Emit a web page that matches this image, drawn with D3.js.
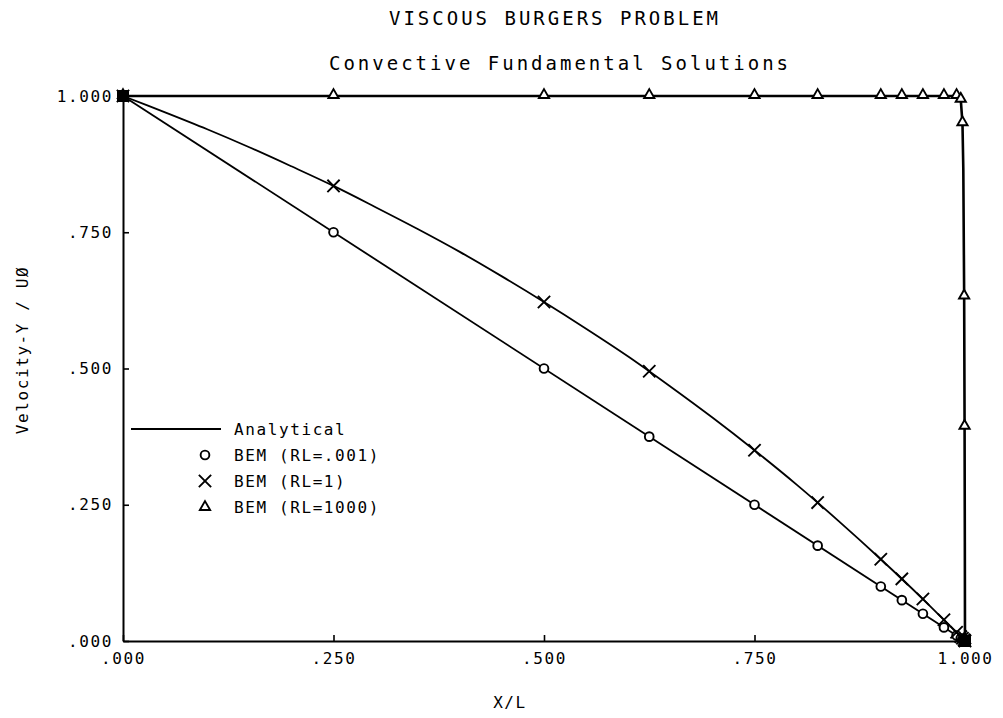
<!DOCTYPE html>
<html><head><meta charset="utf-8">
<script src="https://cdn.jsdelivr.net/npm/d3@7"></script>
<style>
body{margin:0;background:#fff;}
text{font-family:"DejaVu Sans Mono",monospace;font-size:16px;letter-spacing:1.6px;fill:#000;}
.ttl{font-size:19px;letter-spacing:3px;}
</style></head><body>
<svg id="c" width="1003" height="718"></svg>
<script>
// ---- data ----
const titleText = "VISCOUS BURGERS PROBLEM";
const subtitleText = "Convective Fundamental Solutions";
const xLabel = "X/L";
const yLabel = "Velocity-Y / UØ";
const xTicks = [0, 0.25, 0.5, 0.75, 1.0];
const xTickLabels = [".000", ".250", ".500", ".750", "1.000"];
const yTicks = [0, 0.25, 0.5, 0.75, 1.0];
const yTickLabels = [".000", ".250", ".500", ".750", "1.000"];

// BEM nodes
const nodeX = [0, 0.25, 0.5, 0.625, 0.75, 0.825, 0.9, 0.925, 0.95, 0.975, 0.99, 0.995, 0.997, 0.999, 0.9995, 1.0];
const bemRL001 = [1, 0.75, 0.5, 0.375, 0.25, 0.175, 0.1, 0.075, 0.05, 0.025, 0.01, 0.005, 0.003, 0.001, 0.0005, 0];
const bemRL1 = [1, 0.835, 0.622, 0.495, 0.350, 0.254, 0.150, 0.114, 0.077, 0.039, 0.016, 0.008, 0.005, 0.002, 0.001, 0];
const bemRL1000 = [1, 1, 1, 1, 1, 1, 1, 1, 1, 1, 1, 0.993, 0.950, 0.632, 0.393, 0];

// analytical curves
const anaX1 = [0, 0.05, 0.1, 0.15, 0.2, 0.25, 0.3, 0.35, 0.4, 0.45, 0.5, 0.55, 0.6, 0.65, 0.7, 0.75, 0.8, 0.85, 0.9, 0.95, 1.0];
const anaRL1 = [1, 0.970, 0.939, 0.906, 0.871, 0.835, 0.796, 0.756, 0.714, 0.669, 0.622, 0.573, 0.522, 0.467, 0.410, 0.350, 0.287, 0.220, 0.150, 0.077, 0];
const anaX001 = [0, 1.0];
const anaRL001 = [1, 0];
const anaX1000 = [0, 0.99, 0.995, 0.997, 0.998, 0.999, 0.9995, 0.9998, 1.0];
const anaRL1000 = [1, 1, 0.993, 0.950, 0.865, 0.632, 0.393, 0.181, 0];

// boundary condition points (drawn as filled squares)
const bcX = [0, 1];
const bcY = [1, 0];

const legendLabels = ["Analytical", "BEM (RL=.001)", "BEM (RL=1)", "BEM (RL=1000)"];
const legendSymbols = ["line", "circle", "cross", "triangle"];

// ---- drawing ----
const svg = d3.select("#c");
const L = 123, R = 965, T = 96, B = 641;
const x = d3.scaleLinear().domain([0, 1]).range([L, R]);
const y = d3.scaleLinear().domain([0, 1]).range([B, T]);

svg.append("text").attr("class", "ttl").attr("x", 555).attr("y", 25).attr("text-anchor", "middle").text(titleText);
svg.append("text").attr("class", "ttl").attr("x", 560).attr("y", 70).attr("text-anchor", "middle").text(subtitleText);

// axes
const xAxis = d3.axisBottom(x).tickValues(xTicks).tickFormat((d, i) => xTickLabels[i]).tickSizeInner(-6).tickSizeOuter(0).tickPadding(9);
const gx = svg.append("g").attr("transform", `translate(0,${B})`).call(xAxis);
const yAxis = d3.axisLeft(y).tickValues(yTicks).tickFormat((d, i) => yTickLabels[i]).tickSizeInner(-6).tickSizeOuter(0).tickPadding(10);
const gy = svg.append("g").attr("transform", `translate(${L},0)`).call(yAxis);
[gx, gy].forEach(g => {
  g.select(".domain").attr("stroke", "#000").attr("stroke-width", 2);
  g.selectAll(".tick line").attr("stroke", "#000").attr("stroke-width", 1.6);
  g.selectAll("text").style("font-family", '"DejaVu Sans Mono",monospace').style("font-size", "16px").style("letter-spacing", "1.6px").attr("fill", "#000");
});
gx.selectAll(".tick text").attr("dy", "0.9em");

svg.append("text").attr("x", 510).attr("y", 708).attr("text-anchor", "middle").text(xLabel);
svg.append("text").attr("transform", `translate(28,350) rotate(-90)`).attr("text-anchor", "middle").text(yLabel);

// analytical lines
const line = d3.line().x(d => x(d[0])).y(d => y(d[1]));
const smooth = d3.line().x(d => x(d[0])).y(d => y(d[1])).curve(d3.curveCatmullRom);
svg.append("path").attr("d", line(d3.zip(anaX001, anaRL001))).attr("fill", "none").attr("stroke", "#000").attr("stroke-width", 1.8);
svg.append("path").attr("d", smooth(d3.zip(anaX1, anaRL1))).attr("fill", "none").attr("stroke", "#000").attr("stroke-width", 1.8);
svg.append("path").attr("d", line(d3.zip(anaX1000, anaRL1000))).attr("fill", "none").attr("stroke", "#000").attr("stroke-width", 2.6);

// markers
const sym = {
  circle: d3.symbol().type(d3.symbolCircle).size(60),
  cross: d3.symbol().type(d3.symbolX).size(100),
  triangle: d3.symbol().type(d3.symbolTriangle).size(45)
};
function drawMarkers(xs, ys, kind) {
  svg.append("g").selectAll("path").data(d3.zip(xs, ys)).join("path")
    .attr("transform", d => `translate(${x(d[0])},${y(d[1]) + (kind === "triangle" ? -1 : 0)})`)
    .attr("d", sym[kind]())
    .attr("fill", kind === "triangle" || kind === "circle" ? "#fff" : "none")
    .attr("stroke", "#000").attr("stroke-width", 1.9);
}
drawMarkers(nodeX, bemRL001, "circle");
drawMarkers(nodeX, bemRL1, "cross");
drawMarkers(nodeX, bemRL1000, "triangle");

// boundary squares
svg.append("g").selectAll("rect").data(d3.zip(bcX, bcY)).join("rect")
  .attr("x", d => x(d[0]) - 6).attr("y", d => y(d[1]) - 6).attr("width", 12).attr("height", 12).attr("fill", "#000");

// legend
const lg = svg.append("g");
const lgX = 205, lgY0 = 429, lgDy = 26;
legendLabels.forEach((lab, i) => {
  const yy = lgY0 + i * lgDy;
  const s = legendSymbols[i];
  if (s === "line") {
    lg.append("line").attr("x1", 131).attr("x2", 221).attr("y1", yy).attr("y2", yy).attr("stroke", "#000").attr("stroke-width", 1.8);
  } else {
    lg.append("path").attr("transform", `translate(${lgX},${yy})`).attr("d", sym[s]())
      .attr("fill", "none").attr("stroke", "#000").attr("stroke-width", 1.9);
  }
  lg.append("text").attr("x", 234).attr("y", yy).attr("dy", "0.35em").text(lab);
});
</script>
</body></html>
